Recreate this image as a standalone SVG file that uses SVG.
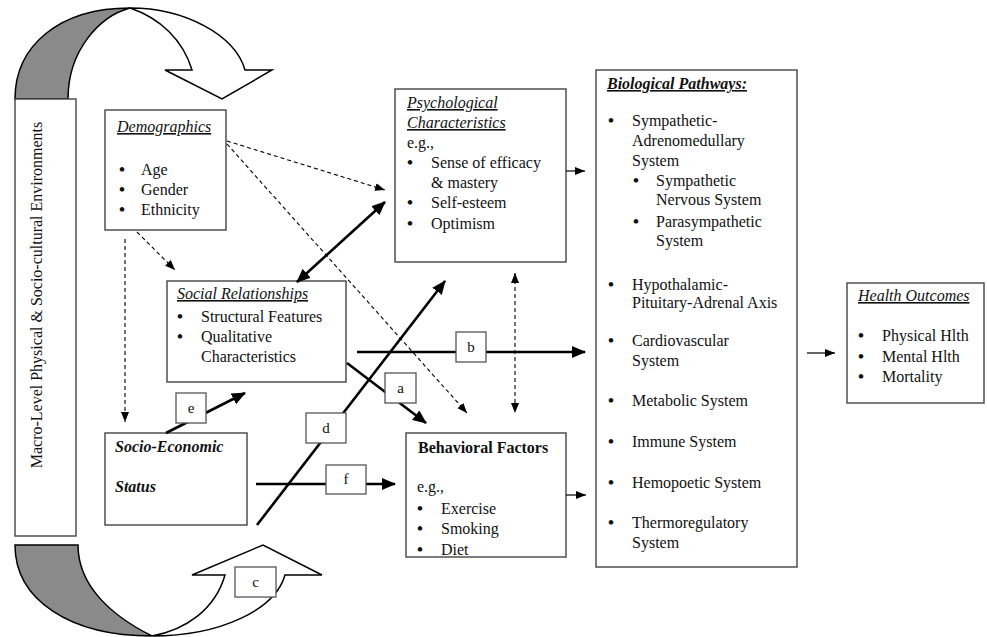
<svg xmlns="http://www.w3.org/2000/svg" width="987" height="637" viewBox="0 0 987 637">
<style>
text{font-family:"Liberation Serif","Times New Roman",serif;font-size:16px;fill:#111}
.b{font-weight:bold;font-size:17px}
.box{fill:#fff;stroke:#444;stroke-width:1.4}
.lbl{fill:#fff;stroke:#555;stroke-width:1.3}
.ttl{font-style:italic;text-decoration:underline}
.thick{stroke:#000;stroke-width:2.6;fill:none}
.thin{stroke:#000;stroke-width:1.2;fill:none}
.dash{stroke:#000;stroke-width:1.1;fill:none;stroke-dasharray:4 3}
.shade{fill:#8a8a8a;stroke:#000;stroke-width:1.5}
.band{fill:#fff;stroke:#000;stroke-width:1.5}
.sm{font-size:15px}
</style>
<defs>
<marker id="ab" viewBox="0 0 14 12" refX="13" refY="6" markerWidth="14" markerHeight="12" markerUnits="userSpaceOnUse" orient="auto-start-reverse"><path d="M0,0 L14,6 L0,12 z" fill="#000"/></marker>
<marker id="ad" viewBox="0 0 10 8" refX="10" refY="4" markerWidth="10" markerHeight="8" markerUnits="userSpaceOnUse" orient="auto-start-reverse"><path d="M0,0 L10,4 L0,8 z" fill="#000"/></marker>
<marker id="at" viewBox="0 0 10 8" refX="10" refY="4" markerWidth="10" markerHeight="8" markerUnits="userSpaceOnUse" orient="auto"><path d="M0,0 L10,4 L0,8 z" fill="#000"/></marker>
</defs>

<g id="top-loop-arrow">
<path class="shade" d="M15,99 C15,45 60,8 130,8 C100,16 68,50 68,99 Z"/>
<path class="band" d="M130,8 C185,8 235,35 245,70 L272,70 L222,99 L165,70 L192,70 C183,40 160,18 130,8 Z"/>
</g>

<g id="bottom-loop-arrow">
<path class="shade" d="M15,545 C15,600 70,636 152,636 C110,615 78,585 78,545 Z"/>
<path class="band" d="M152,636 C220,636 275,610 285,575 L322,575 L263,545 L192,575 L225,575 C215,610 185,630 152,636 Z"/>
</g>

<g id="macro-environment">
<rect class="box" x="15" y="99" width="61" height="437"/>
<text transform="translate(42,295) rotate(-90)" text-anchor="middle" font-size="16.5">Macro-Level Physical &amp; Socio-cultural Environments</text>
</g>

<g id="demographics">
<rect class="box" x="105" y="110" width="121" height="120"/>
<text class="ttl" x="117" y="132">Demographics</text>
<text class="b" x="119" y="175">•</text><text x="141" y="175">Age</text>
<text class="b" x="119" y="195">•</text><text x="141" y="195">Gender</text>
<text class="b" x="119" y="215">•</text><text x="141" y="215">Ethnicity</text>
</g>

<g id="psychological">
<rect class="box" x="395" y="89" width="171" height="173"/>
<text class="ttl" x="407" y="108">Psychological</text>
<text class="ttl" x="407" y="128">Characteristics</text>
<text x="407" y="148">e.g.,</text>
<text class="b" x="407" y="168">•</text><text x="431" y="168">Sense of efficacy</text>
<text x="431" y="188">&amp; mastery</text>
<text class="b" x="407" y="208">•</text><text x="431" y="208">Self-esteem</text>
<text class="b" x="407" y="229">•</text><text x="431" y="229">Optimism</text>
</g>

<g id="social-relationships">
<rect class="box" x="167" y="281" width="179" height="101"/>
<text class="ttl" x="177" y="299">Social Relationships</text>
<text class="b" x="177" y="322">•</text><text x="201" y="322">Structural Features</text>
<text class="b" x="177" y="342">•</text><text x="201" y="342">Qualitative</text>
<text x="201" y="362">Characteristics</text>
</g>

<g id="socio-economic-status">
<rect class="box" x="105" y="433" width="142" height="92"/>
<text x="115" y="452" font-weight="bold" font-style="italic">Socio-Economic</text>
<text x="115" y="492" font-weight="bold" font-style="italic">Status</text>
</g>

<g id="behavioral-factors">
<rect class="box" x="406" y="433" width="160" height="124"/>
<text x="418" y="453" font-weight="bold">Behavioral Factors</text>
<text x="417" y="492">e.g.,</text>
<text class="b" x="417" y="514">•</text><text x="441" y="514">Exercise</text>
<text class="b" x="417" y="534">•</text><text x="441" y="534">Smoking</text>
<text class="b" x="417" y="555">•</text><text x="441" y="555">Diet</text>
</g>

<g id="biological-pathways">
<rect class="box" x="596" y="70" width="201" height="497"/>
<text x="607" y="89" font-weight="bold" font-style="italic" text-decoration="underline">Biological Pathways:</text>
<text class="b" x="608" y="126">•</text><text x="632" y="126">Sympathetic-</text>
<text x="632" y="146">Adrenomedullary</text>
<text x="632" y="166">System</text>
<text class="b" x="633" y="186">•</text><text x="656" y="186">Sympathetic</text>
<text x="656" y="205">Nervous System</text>
<text class="b" x="633" y="227">•</text><text x="656" y="227">Parasympathetic</text>
<text x="656" y="246">System</text>
<text class="b" x="608" y="290">•</text><text x="632" y="290">Hypothalamic-</text>
<text x="632" y="308">Pituitary-Adrenal Axis</text>
<text class="b" x="608" y="346">•</text><text x="632" y="346">Cardiovascular</text>
<text x="632" y="366">System</text>
<text class="b" x="608" y="406">•</text><text x="632" y="406">Metabolic System</text>
<text class="b" x="608" y="447">•</text><text x="632" y="447">Immune System</text>
<text class="b" x="608" y="488">•</text><text x="632" y="488">Hemopoetic System</text>
<text class="b" x="608" y="528">•</text><text x="632" y="528">Thermoregulatory</text>
<text x="632" y="548">System</text>
</g>

<g id="health-outcomes">
<rect class="box" x="847" y="283" width="137" height="120"/>
<text class="ttl" x="858" y="301">Health Outcomes</text>
<text class="b" x="858" y="341">•</text><text x="882" y="341">Physical Hlth</text>
<text class="b" x="858" y="362">•</text><text x="882" y="362">Mental Hlth</text>
<text class="b" x="858" y="382">•</text><text x="882" y="382">Mortality</text>
</g>

<g id="connectors">
<line class="dash" x1="227" y1="141" x2="385" y2="190" marker-end="url(#ad)"/>
<line class="dash" x1="227" y1="144" x2="467" y2="413" marker-end="url(#ad)"/>
<line class="dash" x1="137" y1="232" x2="175" y2="270" marker-end="url(#ad)"/>
<line class="dash" x1="125" y1="239" x2="125" y2="422" stroke-dasharray="2 2" marker-end="url(#ad)"/>
<line class="dash" x1="515" y1="273" x2="515" y2="413" marker-start="url(#ad)" marker-end="url(#ad)"/>
<line class="thick" x1="297" y1="282" x2="385" y2="202" marker-start="url(#ab)" marker-end="url(#ab)"/>
<line class="thick" x1="257" y1="525" x2="445" y2="281" marker-end="url(#ab)"/>
<line class="thick" x1="357" y1="352" x2="585" y2="352" marker-end="url(#ab)"/>
<line class="thick" x1="347" y1="363" x2="426" y2="423" marker-end="url(#ab)"/>
<line class="thick" x1="166" y1="433" x2="245" y2="393" marker-end="url(#ab)"/>
<line class="thick" x1="256" y1="484" x2="395" y2="484" marker-end="url(#ab)"/>
<line class="thin" x1="566" y1="171" x2="585" y2="171" marker-end="url(#at)"/>
<line class="thin" x1="566" y1="495" x2="586" y2="495" marker-end="url(#at)"/>
<line class="thin" x1="807" y1="353" x2="835" y2="353" marker-end="url(#at)"/>
</g>

<g id="label-a"><rect class="lbl" x="385" y="373" width="31" height="30"/><text class="sm" x="400.5" y="393" text-anchor="middle">a</text></g>
<g id="label-b"><rect class="lbl" x="456" y="332" width="30" height="30"/><text class="sm" x="471" y="352" text-anchor="middle">b</text></g>
<g id="label-c"><rect class="lbl" x="235" y="567" width="41" height="30"/><text class="sm" x="255.5" y="587" text-anchor="middle">c</text></g>
<g id="label-d"><rect class="lbl" x="306" y="413" width="40" height="30"/><text class="sm" x="326" y="433" text-anchor="middle">d</text></g>
<g id="label-e"><rect class="lbl" x="176" y="393" width="30" height="30"/><text class="sm" x="191" y="413" text-anchor="middle">e</text></g>
<g id="label-f"><rect class="lbl" x="326" y="465" width="40" height="29"/><text class="sm" x="346" y="484" text-anchor="middle">f</text></g>
</svg>
